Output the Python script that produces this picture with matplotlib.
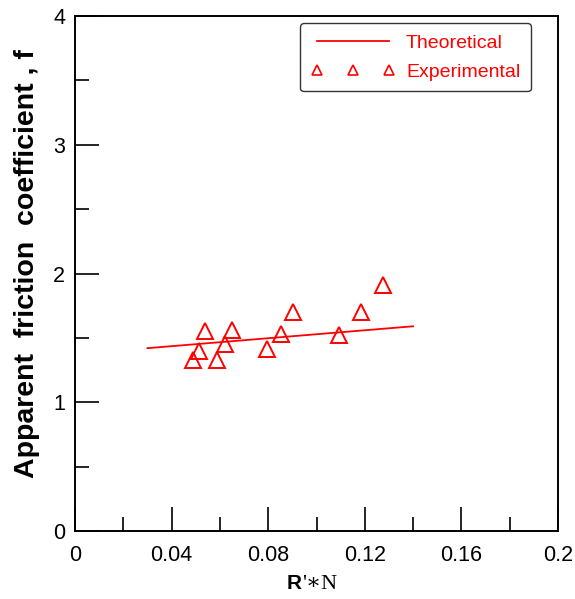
import matplotlib
matplotlib.use("Agg")
import matplotlib.pyplot as plt
from matplotlib.lines import Line2D
from matplotlib.ticker import MultipleLocator

# Data
theory_x = [0.03, 0.14]
theory_f = [1.42, 1.59]
exp_x = [0.0489, 0.0514, 0.0538, 0.0586, 0.0621, 0.0652, 0.0797, 0.0852, 0.0903, 0.1092, 0.1183, 0.1277]
exp_f = [1.33, 1.40, 1.55, 1.33, 1.45, 1.56, 1.41, 1.53, 1.70, 1.52, 1.70, 1.91]
x_ticks = [0, 0.04, 0.08, 0.12, 0.16, 0.2]
x_ticklabels = ["0", "0.04", "0.08", "0.12", "0.16", "0.2"]
y_ticks = [0, 1, 2, 3, 4]

plt.rcParams['font.family'] = ['Liberation Sans', 'DejaVu Sans']

fig = plt.figure(figsize=(5.75, 5.99), dpi=100)
ax = fig.add_axes([75/575, (599-531)/599, (558-75)/575, (531-16)/599])

ax.plot(theory_x, theory_f, color='red', lw=1.3)
ax.plot(exp_x, exp_f, linestyle='none', marker='^', markersize=11,
        markerfacecolor='none', markeredgecolor='red', markeredgewidth=1.4)

ax.set_xlim(0, 0.2)
ax.set_ylim(0, 4)
ax.set_xticks(x_ticks)
ax.set_xticklabels(x_ticklabels)
ax.set_yticks(y_ticks)
ax.xaxis.set_minor_locator(MultipleLocator(0.02))
ax.yaxis.set_minor_locator(MultipleLocator(0.5))
ax.tick_params(which='major', direction='in', length=17, width=1.2, labelsize=15.5)
ax.tick_params(axis='x', which='major', pad=10)
ax.tick_params(axis='y', which='major', pad=7)
ax.tick_params(which='minor', direction='in', length=10, width=1.2)
for s in ax.spines.values():
    s.set_linewidth(1.4)

ax.set_ylabel("Apparent  friction  coefficient , f", fontsize=20.5, fontweight='bold')
ax.yaxis.set_label_coords(-0.072, 0.52)

# x label: bold sans R, then serif '*N
fig.text(302/575, 1 - 589/599, "R", fontsize=15, fontweight='bold', ha='right', va='baseline',
         family=['Liberation Sans'])
fig.text(302/575, 1 - 589/599, "'\u2217N", fontsize=16, ha='left', va='baseline',
         family=['Liberation Serif', 'DejaVu Serif'])

h1 = Line2D([], [], color='red', lw=1.3)
h2 = Line2D([], [], linestyle='none', marker='^', markersize=7,
            markerfacecolor='none', markeredgecolor='red', markeredgewidth=1.2)
leg = ax.legend([h1, h2], ["Theoretical", "Experimental"], loc='upper right',
                bbox_to_anchor=(0.944, 0.986), numpoints=3, handlelength=4.3,
                handletextpad=0.6, fontsize=14, frameon=True, fancybox=True,
                borderpad=0.55, labelspacing=0.6, borderaxespad=0.0)
leg.get_frame().set_edgecolor('black')
leg.get_frame().set_linewidth(1.0)
for t in leg.get_texts():
    t.set_color('red')

fig.savefig("out.png", dpi=100)
